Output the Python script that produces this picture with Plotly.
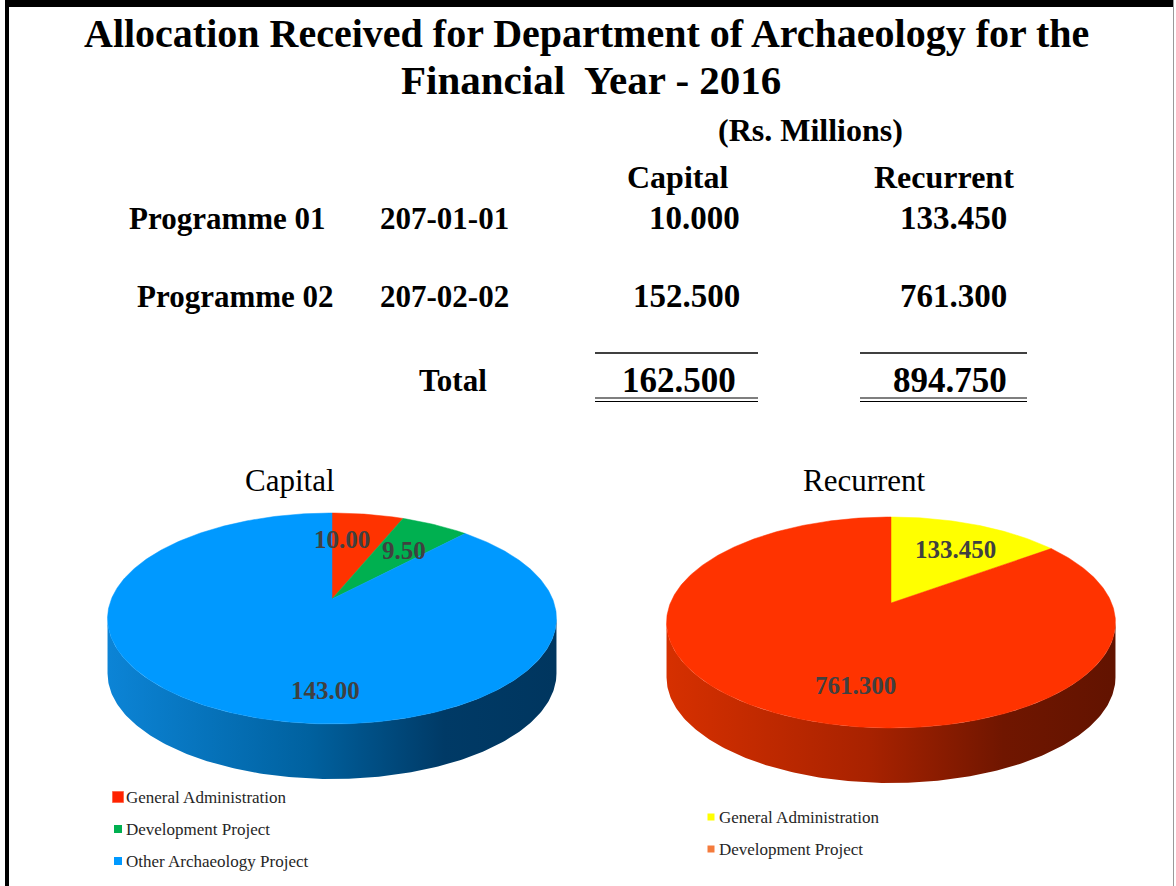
import numpy as np
import plotly.graph_objects as go

W, H = 1176, 886

# ---------------- data ----------------
title_lines = ["Allocation Received for Department of Archaeology for the",
               "Financial  Year - 2016"]
unit_label = "(Rs. Millions)"
col_headers = ["Capital", "Recurrent"]
programmes = ["Programme 01", "Programme 02"]
prog_codes = ["207-01-01", "207-02-02"]
capital_alloc = [10.000, 152.500]
recurrent_alloc = [133.450, 761.300]

cap_labels = ["General Administration", "Development Project", "Other Archaeology Project"]
cap_values = [10.00, 9.50, 143.00]
cap_colors = ["#FF3300", "#00B050", "#0099FF"]
cap_legend_colors = ["#FF2200", "#00B050", "#0099FF"]

rec_labels = ["General Administration", "Development Project"]
rec_values = [133.450, 761.300]
rec_colors = ["#FFFF00", "#FF3300"]
rec_legend_colors = ["#FFFF00", "#F47B3C"]

SERIF = "Liberation Serif, Times New Roman, serif"

fig = go.Figure()

# ---------------- pie geometry (perspective projection) ----------------
K = 0.1848      # perspective strength
A = 220.6       # horizontal scale
B = 101.9       # vertical scale
DEPTH = 55


def proj(cx, cy, u, v):
    d = 1 - K * v
    return cx + A * u / d, cy + B * v / d


def draw_pie(cx, cy, values, colors, side_scale):
    vals = np.array(values, dtype=float)
    total = vals.sum()
    # side (front half)
    phi0 = np.arcsin(K)
    phis = np.linspace(phi0, np.pi - phi0, 200)
    tx, ty = proj(cx, cy, np.cos(phis), np.sin(phis))
    bx, by = tx[::-1], ty[::-1] + DEPTH
    fig.add_trace(go.Scatter(
        x=np.concatenate([tx, bx, tx[:1]]), y=np.concatenate([ty, by, ty[:1]]),
        mode="lines", line=dict(width=0), fill="toself",
        fillgradient=dict(type="horizontal", colorscale=side_scale),
        hoverinfo="skip", showlegend=False))
    # top face slices (clockwise from 12 o'clock)
    start = 0.0
    for val, col in zip(vals, colors):
        a1 = start
        a2 = start + val / total * 2 * np.pi
        ang = np.linspace(a1, a2, max(8, int((a2 - a1) * 80)))
        px, py = proj(cx, cy, np.sin(ang), -np.cos(ang))
        xs = np.concatenate([[cx], px, [cx]])
        ys = np.concatenate([[cy], py, [cy]])
        fig.add_trace(go.Scatter(x=xs, y=ys, mode="lines", line=dict(width=0.5, color=col),
                                 fill="toself", fillcolor=col, hoverinfo="skip",
                                 showlegend=False))
        start = a2


cap_cx, cap_cy = 332, 599
rec_cx, rec_cy = 891, 603
draw_pie(cap_cx, cap_cy, cap_values, cap_colors,
         [[0, "#0C84D6"], [0.45, "#00619F"], [0.75, "#003A66"], [1, "#00365F"]])
draw_pie(rec_cx, rec_cy, rec_values, rec_colors,
         [[0, "#D63000"], [0.45, "#A82200"], [0.75, "#701600"], [1, "#621300"]])

annotations = []


def txt(x, y, s, size, bold=True, xanchor="center", color="#000000"):
    annotations.append(dict(x=x, y=y, xref="x", yref="y", text=(f"<b>{s}</b>" if bold else s),
                            showarrow=False, xanchor=xanchor, yanchor="middle", borderpad=0,
                            font=dict(family=SERIF, size=size, color=color)))


# pie data labels
cap_label_pos = [(342, 539), (404, 550), (325, 690)]
for (lx, ly), v in zip(cap_label_pos, cap_values):
    txt(lx, ly, f"{v:.2f}", 25, color="#404040")
rec_label_pos = [(955, 549), (855, 685)]
for (lx, ly), v in zip(rec_label_pos, rec_values):
    txt(lx, ly, f"{v:.3f}", 25, color="#404040")

# titles
txt(586, 33, title_lines[0], 40)
txt(591, 80, title_lines[1], 41)
txt(810, 130, unit_label, 32)
txt(677, 177, col_headers[0], 32)
txt(944, 177, col_headers[1], 32)
row_y = [218, 296]
prog_x = [128, 136]
for i in range(2):
    txt(prog_x[i], row_y[i], programmes[i], 31, xanchor="left")
    txt(444, row_y[i], prog_codes[i], 31)
    txt(741, row_y[i], f"{capital_alloc[i]:.3f}", 33, xanchor="right")
    txt(1008, row_y[i], f"{recurrent_alloc[i]:.3f}", 33, xanchor="right")
txt(453, 380, "Total", 31)
txt(737, 380, f"{sum(capital_alloc):.3f}", 35, xanchor="right")
txt(1008, 380, f"{sum(recurrent_alloc):.3f}", 35, xanchor="right")

txt(290, 480, col_headers[0], 31, bold=False)
txt(864, 480, col_headers[1], 31, bold=False)

# legends
cap_leg_y = [797, 829, 861]
for lab, col, ly, sz in zip(cap_labels, cap_legend_colors, cap_leg_y, [11, 8, 8]):
    fig.add_trace(go.Scatter(x=[118], y=[ly], mode="markers",
                             marker=dict(symbol="square", size=sz, color=col,
                                         line=dict(width=1 if sz > 8 else 0, color="#FF6A50")),
                             hoverinfo="skip", showlegend=False))
    txt(125, ly, lab, 17, bold=False, xanchor="left", color="#262626")
rec_leg_y = [817, 849]
for lab, col, ly in zip(rec_labels, rec_legend_colors, rec_leg_y):
    fig.add_trace(go.Scatter(x=[711], y=[ly], mode="markers",
                             marker=dict(symbol="square", size=7, color=col),
                             hoverinfo="skip", showlegend=False))
    txt(718, ly, lab, 17, bold=False, xanchor="left", color="#262626")

# rules under table
shapes = []
for (x0, x1) in [(595, 758), (860, 1027)]:
    shapes.append(dict(type="line", x0=x0, x1=x1, y0=353, y1=353, xref="x", yref="y",
                       line=dict(color="#000000", width=1.5)))
    for yy in (398, 401.5):
        shapes.append(dict(type="line", x0=x0, x1=x1, y0=yy, y1=yy, xref="x", yref="y",
                           line=dict(color="#000000", width=1.2)))
# frame
shapes.append(dict(type="rect", x0=5, x1=1174, y0=0, y1=7, xref="x", yref="y",
                   fillcolor="#000000", line=dict(width=0)))
shapes.append(dict(type="rect", x0=5, x1=9, y0=0, y1=886, xref="x", yref="y",
                   fillcolor="#000000", line=dict(width=0)))
shapes.append(dict(type="line", x0=1173.5, x1=1173.5, y0=0, y1=886, xref="x", yref="y",
                   line=dict(color="#9a9a9a", width=1)))

fig.update_layout(
    width=W, height=H, autosize=False,
    margin=dict(l=0, r=0, t=0, b=0),
    paper_bgcolor="#FFFFFF", plot_bgcolor="#FFFFFF",
    xaxis=dict(range=[0, W], visible=False, fixedrange=True),
    yaxis=dict(range=[H, 0], visible=False, fixedrange=True),
    annotations=annotations, shapes=shapes,
)

fig.write_html("out.html", config={"displayModeBar": False},
               post_script="document.body.style.margin='0';document.documentElement.style.margin='0';")
